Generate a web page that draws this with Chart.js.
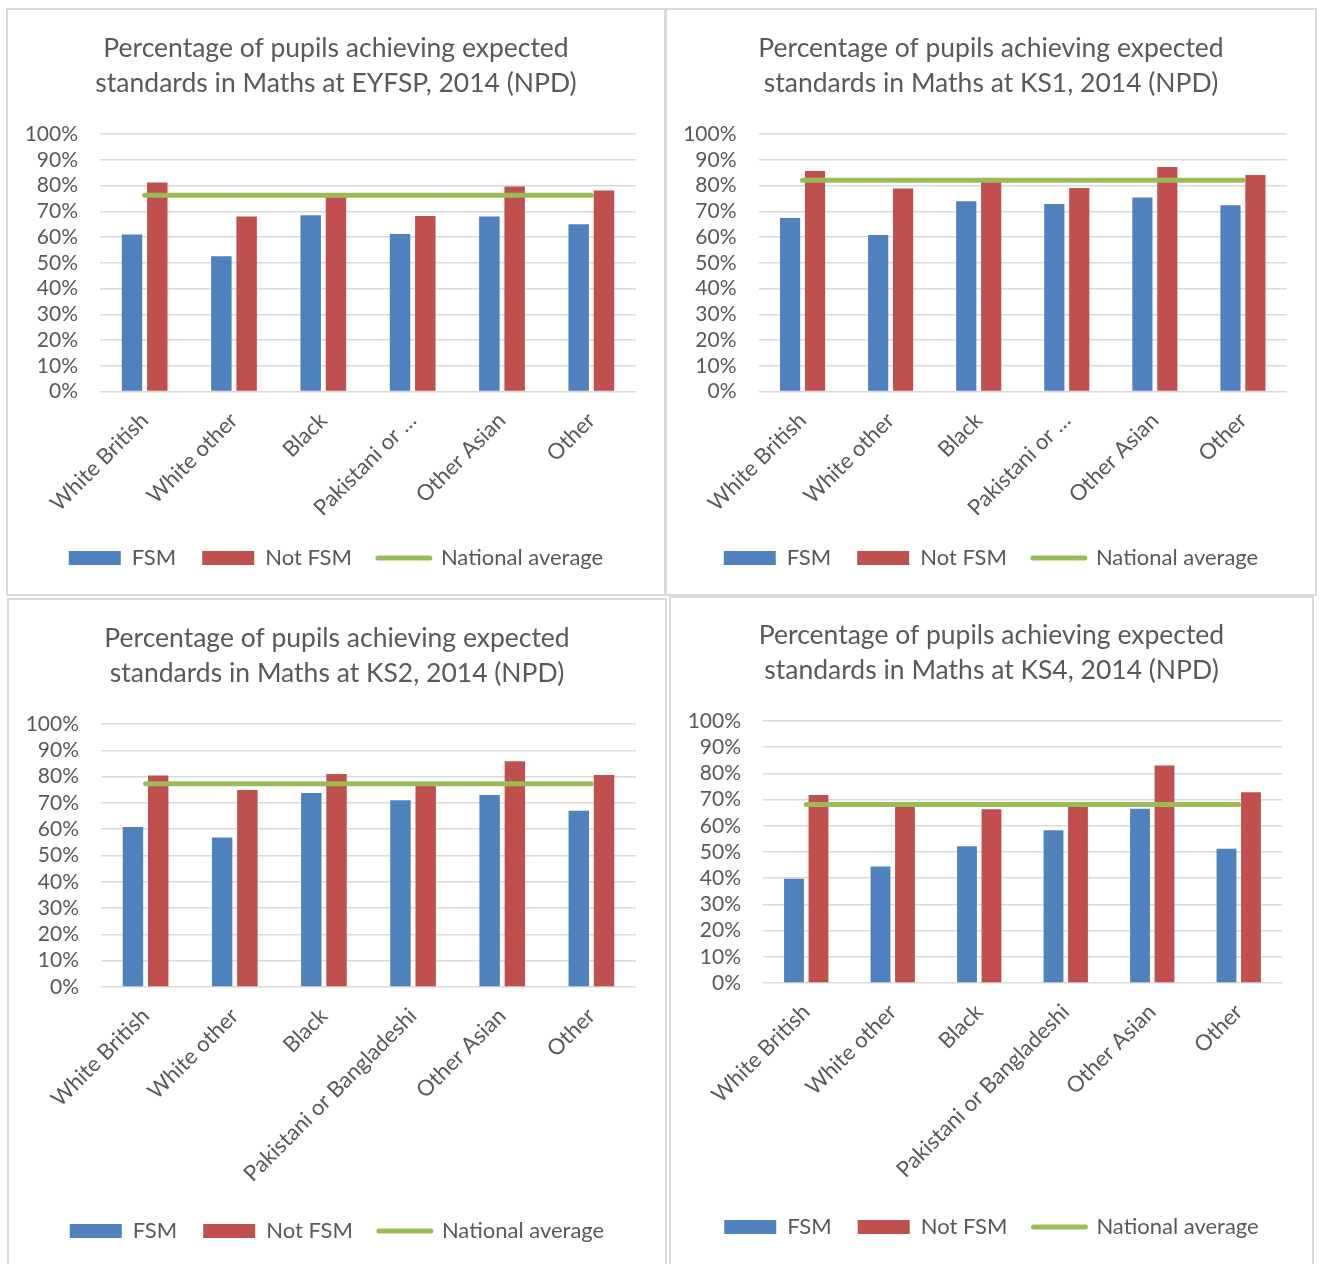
<!DOCTYPE html>
<html><head><meta charset="utf-8">
<script src="https://cdn.jsdelivr.net/npm/chart.js@4.4.1/dist/chart.umd.min.js"></script>
<style>
html,body{margin:0;padding:0;background:#fff;}
body{width:1321px;height:1264px;overflow:hidden;position:relative;}
.panel{position:absolute;border:2px solid #d9d9d9;box-sizing:border-box;background:#fff;overflow:hidden;}
.panel canvas{display:block;}
</style></head><body>
<div class="panel" style="left:6px;top:8px;width:660px;height:588px"><canvas id="c1"></canvas></div>
<div class="panel" style="left:665px;top:8px;width:652px;height:588px"><canvas id="c2"></canvas></div>
<div class="panel" style="left:7px;top:598px;width:660px;height:690px"><canvas id="c3"></canvas></div>
<div class="panel" style="left:669px;top:596px;width:645px;height:690px"><canvas id="c4"></canvas></div>
<script>
const categories = ['White British', 'White other', 'Black', 'Pakistani or Bangladeshi', 'Other Asian', 'Other'];
const shortCategories = ['White British', 'White other', 'Black', 'Pakistani or …', 'Other Asian', 'Other'];
const seriesNames = ['FSM', 'Not FSM', 'National average'];
const yTickValues = [0, 10, 20, 30, 40, 50, 60, 70, 80, 90, 100];

const eyfspFSM      = [61.0, 52.5, 68.4, 61.2, 68.0, 65.0];
const eyfspNotFSM   = [81.2, 68.0, 76.3, 68.2, 79.6, 78.1];
const eyfspNational = [76.2, 76.2, 76.2, 76.2, 76.2, 76.2];

const ks1FSM      = [67.4, 60.8, 73.9, 72.8, 75.3, 72.3];
const ks1NotFSM   = [85.6, 78.8, 81.6, 79.0, 87.2, 84.1];
const ks1National = [82.0, 82.0, 82.0, 82.0, 82.0, 82.0];

const ks2FSM      = [60.8, 56.8, 73.8, 71.0, 73.0, 67.0];
const ks2NotFSM   = [80.4, 74.9, 81.0, 77.5, 85.8, 80.6];
const ks2National = [77.3, 77.3, 77.3, 77.3, 77.3, 77.3];

const ks4FSM      = [39.8, 44.5, 52.2, 58.3, 66.5, 51.2];
const ks4NotFSM   = [71.8, 67.8, 66.3, 67.8, 83.0, 72.8];
const ks4National = [68.1, 68.1, 68.1, 68.1, 68.1, 68.1];

const titles = [
  ['Percentage of pupils achieving expected', 'standards in Maths at EYFSP, 2014 (NPD)'],
  ['Percentage of pupils achieving expected', 'standards in Maths at KS1, 2014 (NPD)'],
  ['Percentage of pupils achieving expected', 'standards in Maths at KS2, 2014 (NPD)'],
  ['Percentage of pupils achieving expected', 'standards in Maths at KS4, 2014 (NPD)']
];

const FONT = 'Lato, "Open Sans", sans-serif';
const TEXT = '#595959';
const BLUE = '#4f81bd', RED = '#c0504d', GREEN = '#9bbb59';
Chart.defaults.font.family = FONT;
Chart.defaults.color = TEXT;

function makeChart(id, title, labels, fsm, notFsm, national, g) {
  const canvas = document.getElementById(id);
  canvas.width = g.w; canvas.height = g.h;
  canvas.style.width = g.w + 'px'; canvas.style.height = g.h + 'px';
  const TL = 35; // title line height
  const TF = 26.5; // title font size
  const titlePadTop = g.t1 - TL / 2;
  const titlePadBottom = g.top - (titlePadTop + 2 * TL);
  const LP = 26; // legend padding
  const LF = 22; // legend font size
  const legendTop = g.legend - (LP + LF / 2);
  const legendBottom = legendTop + LF + LP + 10;
  const side = g.w - g.right;
  new Chart(canvas, {
    data: {
      labels: labels,
      datasets: [
        { type: 'bar', label: seriesNames[0], data: fsm, backgroundColor: BLUE, order: 1,
          categoryPercentage: 0.566, barPercentage: 0.81 },
        { type: 'bar', label: seriesNames[1], data: notFsm, backgroundColor: RED, order: 1,
          categoryPercentage: 0.566, barPercentage: 0.81 },
        { type: 'line', label: seriesNames[2], data: national, borderColor: GREEN, backgroundColor: GREEN,
          borderWidth: 5, pointRadius: 0, borderCapStyle: 'round', order: 0, tension: 0 }
      ]
    },
    options: {
      responsive: false,
      animation: false,
      devicePixelRatio: 1,
      layout: { padding: { left: 0, top: 0, right: 0, bottom: g.h - legendBottom } },
      plugins: {
        tooltip: { enabled: false },
        title: {
          display: true, text: title, color: TEXT,
          font: { size: TF, weight: 'normal', family: FONT, lineHeight: TL / TF },
          padding: { top: titlePadTop, bottom: titlePadBottom }
        },
        legend: {
          position: 'bottom',
          labels: {
            usePointStyle: true, pointStyleWidth: 52, boxHeight: 14, padding: LP,
            color: TEXT, font: { size: LF, family: FONT },
            generateLabels: (chart) => chart.data.datasets.map((ds, i) => ({
              text: ds.label,
              fillStyle: ds.type === 'line' ? ds.borderColor : ds.backgroundColor,
              strokeStyle: ds.type === 'line' ? ds.borderColor : ds.backgroundColor,
              lineWidth: ds.type === 'line' ? 5 : 0,
              lineCap: 'round',
              pointStyle: ds.type === 'line' ? 'line' : 'rect',
              hidden: false, datasetIndex: i, fontColor: TEXT
            }))
          }
        }
      },
      scales: {
        x: {
          grid: { display: false }, border: { display: false },
          ticks: { minRotation: 45, maxRotation: 45, autoSkip: false, color: TEXT,
                   font: { size: 22, family: FONT }, padding: 8 },
          afterFit: (s) => { s.height = legendTop - g.bottom; }
        },
        y: {
          min: 0, max: 100,
          afterBuildTicks: (s) => { s.ticks = yTickValues.map(v => ({ value: v })); },
          grid: { color: '#d9d9d9', lineWidth: 1.5, drawTicks: false },
          border: { display: false },
          ticks: { color: TEXT, font: { size: 21, family: FONT }, padding: 22, autoSkip: false,
                   callback: (v) => v + '%' },
          afterFit: (s) => { s.width = g.left; }
        },
        spacer: {
          type: 'linear', position: 'right', display: true,
          grid: { display: false, drawTicks: false }, border: { display: false },
          ticks: { display: false },
          afterFit: (s) => { s.width = side; }
        }
      }
    }
  });
}

makeChart('c1', titles[0], shortCategories, eyfspFSM, eyfspNotFSM, eyfspNational,
  { w: 656, h: 584, left: 92, right: 628, top: 124, bottom: 381.5, t1: 38, legend: 548 });
makeChart('c2', titles[1], shortCategories, ks1FSM, ks1NotFSM, ks1National,
  { w: 648, h: 584, left: 91.5, right: 620, top: 124, bottom: 381.5, t1: 38, legend: 548 });
makeChart('c3', titles[2], categories, ks2FSM, ks2NotFSM, ks2National,
  { w: 656, h: 686, left: 92, right: 627, top: 124, bottom: 387, t1: 38, legend: 631 });
makeChart('c4', titles[3], categories, ks4FSM, ks4NotFSM, ks4National,
  { w: 641, h: 686, left: 92, right: 611, top: 123, bottom: 385, t1: 37, legend: 629 });
</script>
</body></html>
